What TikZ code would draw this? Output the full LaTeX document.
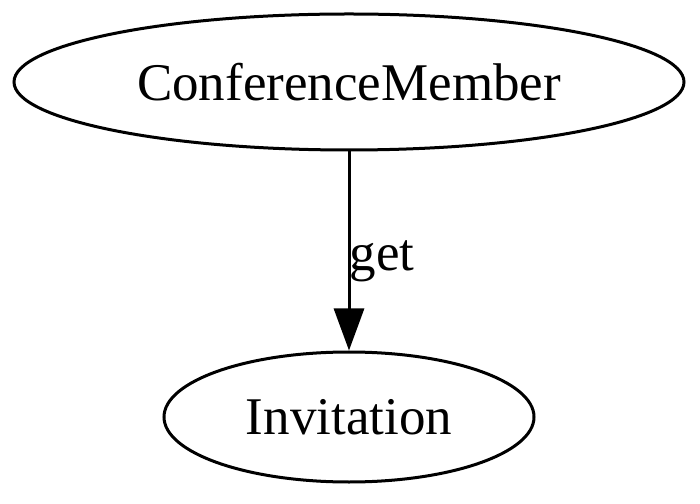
\documentclass[tikz,border=0pt]{standalone}
\usepackage{fontspec}
\setmainfont{Liberation Serif}
\usetikzlibrary{shapes.geometric,arrows.meta}
\begin{document}
\begin{tikzpicture}[x=1pt,y=1pt,
  gnode/.style={draw,ellipse,line width=3pt,inner sep=0pt,font=\fontsize{53}{60}\selectfont},
  gedge/.style={line width=3pt,-{Triangle[length=42pt,width=30pt]}}]
\useasboundingbox (0,0) rectangle (700,503);
\node[gnode,minimum width=670pt,minimum height=136pt] (cm) at (349,421) {ConferenceMember};
\node[gnode,minimum width=370pt,minimum height=130pt] (inv) at (349,86) {Invitation};
\draw[gedge] (cm.south) -- node[right,xshift=-4pt,yshift=-10pt,font=\fontsize{53}{60}\selectfont]{get} (inv.north);
\end{tikzpicture}
\end{document}
